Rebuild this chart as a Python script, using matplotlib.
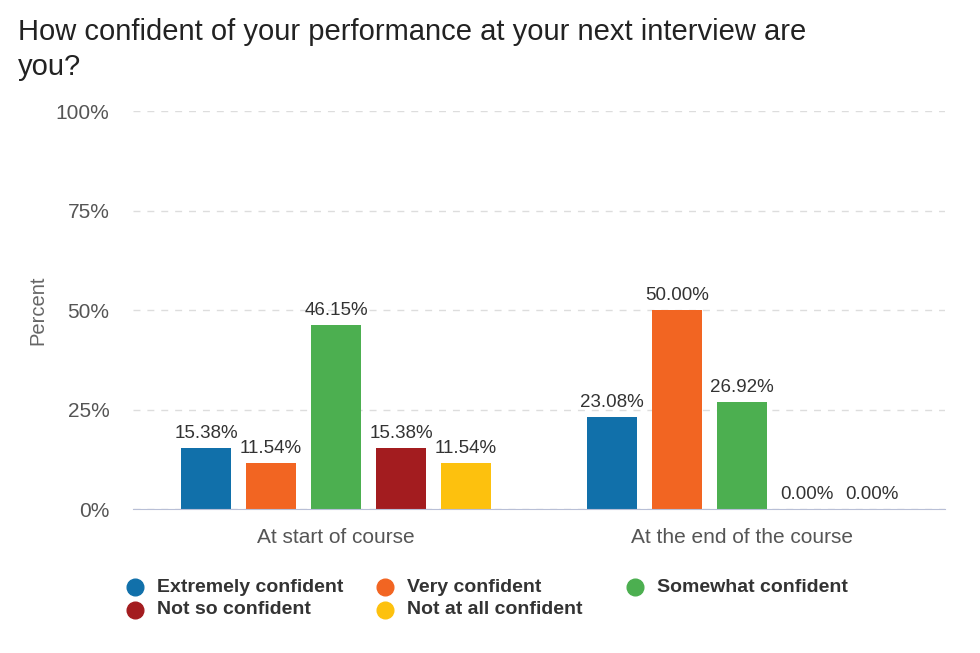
import matplotlib.pyplot as plt
import numpy as np
from matplotlib.lines import Line2D

categories = ["At start of course", "At the end of the course"]
series_names = [
    "Extremely confident",
    "Very confident",
    "Somewhat confident",
    "Not so confident",
    "Not at all confident",
]
start_values = [15.38, 11.54, 46.15, 15.38, 11.54]
end_values = [23.08, 50.00, 26.92, 0.00, 0.00]
colors = ["#1170aa", "#f26522", "#4caf50", "#a31c1f", "#fdc10e"]
y_ticks = [0, 25, 50, 75, 100]

plt.rcParams["font.family"] = ["Arial", "Liberation Sans", "DejaVu Sans"]

fig = plt.figure(figsize=(9.8, 6.53), dpi=100)
ax = fig.add_axes([0.1357, 0.2205, 0.8286, 0.6095])

x = np.arange(len(categories))
step = 0.16
width = 0.123
for i, name in enumerate(series_names):
    vals = [start_values[i], end_values[i]]
    pos = x + (i - 2) * step
    bars = ax.bar(pos, vals, width=width, color=colors[i], zorder=3)
    for b, v in zip(bars, vals):
        ax.text(b.get_x() + b.get_width() / 2, v + 1.5, f"{v:.2f}%",
                ha="center", va="bottom", fontsize=13.5, color="#333333")

ax.set_xlim(-0.5, 1.5)
ax.set_ylim(0, 100)
ax.set_yticks(y_ticks)
ax.set_yticklabels([f"{t}%" for t in y_ticks], fontsize=15, color="#555555")
ax.set_xticks(x)
ax.set_xticklabels(categories, fontsize=15, color="#555555")
ax.tick_params(axis="y", length=0, pad=17)
ax.tick_params(axis="x", length=0, pad=14)
ax.set_ylabel("Percent", fontsize=14.5, color="#666666", labelpad=6)
ax.yaxis.grid(True, linestyle=(0, (5, 5)), color="#dddddd", linewidth=1, zorder=0)
for side in ["top", "right", "left"]:
    ax.spines[side].set_visible(False)
ax.spines["bottom"].set_color("#b8bfd6")
ax.spines["bottom"].set_zorder(4)

fig.text(18 / 980, 1 - 18 / 653,
         "How confident of your performance at your next interview are\nyou?",
         fontsize=21, color="#222222", ha="left", va="top", linespacing=1.3)

# legend laid out in a 3-column grid
for i, name in enumerate(series_names):
    col = i % 3
    row = i // 3
    xm = (135 + 250 * col) / 980
    ym = 1 - (587 + 23 * row) / 653
    fig.add_artist(Line2D([xm], [ym], marker="o", markersize=12, color=colors[i],
                          linestyle="none", transform=fig.transFigure))
    fig.text(xm + 22 / 980, ym, name, fontsize=14, fontweight="bold",
             color="#333333", ha="left", va="center")

fig.savefig("out.png", dpi=100)
